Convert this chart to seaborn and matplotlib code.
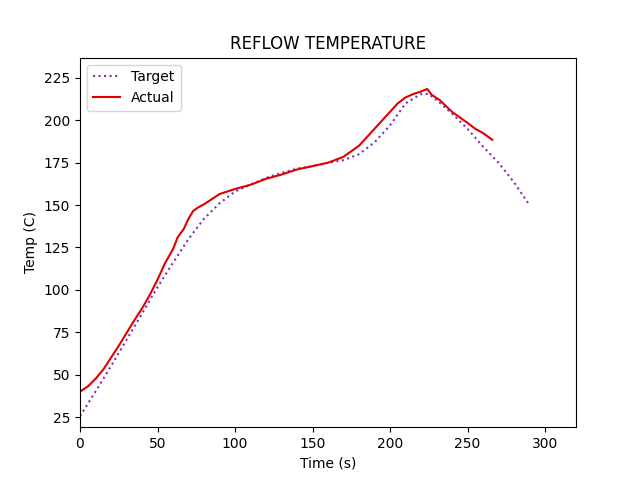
import matplotlib
matplotlib.use("Agg")
import matplotlib.pyplot as plt
import seaborn as sns
import pandas as pd

target_time = [0, 10, 20, 30, 40, 50, 60, 70, 80, 90, 100, 110, 120, 130, 140, 150,
               160, 170, 180, 190, 200, 210, 220, 225, 230, 240, 250, 260, 270, 280, 290]
target_temp = [25.5, 40, 55, 70.5, 86, 101.5, 116, 130, 142, 151, 158, 162, 166, 169,
               171.5, 173, 175, 176.5, 180, 187, 197, 210, 215.5, 215.5, 212, 204, 195,
               184.5, 175, 163.5, 150]

actual_time = [0, 5, 10, 15, 20, 25, 30, 35, 40, 45, 50, 55, 60, 63, 67, 70, 73, 76, 80,
               85, 90, 95, 100, 110, 120, 130, 140, 150, 160, 170, 180, 190, 200, 205,
               210, 215, 220, 224, 227, 232, 240, 250, 255, 260, 266]
actual_temp = [40, 43, 47.5, 53, 60, 67, 74.5, 82, 89, 97, 106, 116, 124, 131, 136, 142,
               146.5, 148.5, 150.5, 153.5, 156.5, 158, 159.5, 162, 165.5, 168, 171, 173,
               175, 178.5, 185, 195, 205, 210, 213.5, 215.5, 217, 218.5, 215, 212, 205,
               198.5, 195, 192.5, 188.5]

fig, ax = plt.subplots(figsize=(6.4, 4.8), dpi=100)
sns.lineplot(x=target_time, y=target_temp, ax=ax, color="#8030b8", linestyle=":",
             label="Target", estimator=None, sort=False)
sns.lineplot(x=actual_time, y=actual_temp, ax=ax, color="#e00000", linestyle="-",
             label="Actual", estimator=None, sort=False)
ax.set_xlim(0, 320)
ax.set_ylim(19, 237)
ax.set_title("REFLOW TEMPERATURE")
ax.set_xlabel("Time (s)")
ax.set_ylabel("Temp (C)")
ax.legend(loc="upper left")
fig.savefig("out.png", dpi=100)
